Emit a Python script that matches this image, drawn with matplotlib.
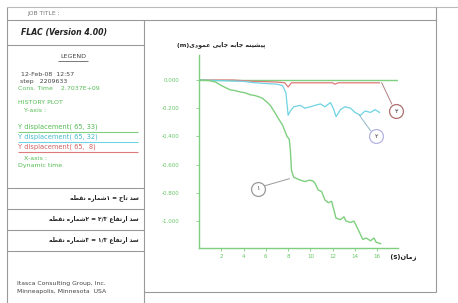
import itertools
import matplotlib
matplotlib.use("Agg")
import matplotlib.pyplot as plt

# ---- data ----
t_crest = [0, 1.0, 1.5, 1.9, 2.4, 2.8, 3.2, 3.7, 4.1, 4.6, 5.0, 5.4, 5.7, 6.0, 6.4,
           6.8, 7.1, 7.5, 7.7, 7.9, 8.1, 8.2, 8.3, 8.5, 8.8, 9.1, 9.5, 9.9, 10.2,
           10.4, 10.7, 11.0, 11.3, 11.6, 11.9, 12.1, 12.3, 12.7, 13.0, 13.2, 13.6,
           13.9, 14.1, 14.4, 14.7, 15.0, 15.4, 15.7, 15.9, 16.3]
y_crest = [0, -0.005, -0.015, -0.035, -0.055, -0.07, -0.075, -0.085, -0.09, -0.105,
           -0.11, -0.12, -0.13, -0.15, -0.18, -0.23, -0.27, -0.32, -0.36, -0.40,
           -0.42, -0.50, -0.64, -0.69, -0.70, -0.71, -0.72, -0.71, -0.715, -0.73,
           -0.78, -0.79, -0.85, -0.87, -0.86, -0.92, -0.98, -0.99, -0.97, -1.00,
           -1.01, -1.00, -1.03, -1.08, -1.13, -1.12, -1.14, -1.12, -1.15, -1.16]

t_mid = [0, 2, 4, 5, 6, 7, 7.5, 7.8, 8.0, 8.2, 8.5, 9.1, 9.5, 10.0, 10.4, 10.9,
         11.3, 11.8, 12.1, 12.3, 12.7, 13.1, 13.6, 14.0, 14.5, 14.9, 15.4, 15.8, 16.2]
y_mid = [0, -0.005, -0.01, -0.02, -0.025, -0.03, -0.04, -0.09, -0.25, -0.22, -0.19,
         -0.18, -0.20, -0.19, -0.18, -0.17, -0.19, -0.16, -0.21, -0.26, -0.21, -0.19,
         -0.20, -0.23, -0.25, -0.22, -0.23, -0.21, -0.23]

t_low = [0, 3, 4, 5, 6, 7, 7.7, 8.0, 8.3, 9, 10, 11, 12.0, 12.2, 12.5, 13, 14, 15, 16.2]
y_low = [0, 0, -0.005, -0.01, -0.012, -0.015, -0.02, -0.05, -0.02, -0.02, -0.02,
         -0.02, -0.02, -0.03, -0.02, -0.02, -0.02, -0.02, -0.02]

x_ticks = [2, 4, 6, 8, 10, 12, 14, 16]
y_ticks = [0.0, -0.2, -0.4, -0.6, -0.8, -1.0]

# circle labels: (label, centre, line start, line end)
marks = [("۱", (5.3, -0.77), (5.9, -0.75), (8.1, -0.70)),
         ("۲", (15.9, -0.40), (15.4, -0.36), (14.4, -0.25)),
         ("۳", (17.7, -0.22), (17.3, -0.17), (16.4, -0.02))]

legend_items = ["Y displacement( 65, 33)", "Y displacement( 65, 32)",
                "Y displacement( 65,  8)"]
rows = ["نقطه شماره۱ = تاج سد", "نقطه شماره۲ = ۲/۳ ارتفاع سد",
        "نقطه شماره۳ = ۱/۳ ارتفاع سد"]

GREEN = "#7fcf7f"
CYAN = "#6fd3e3"
RED = "#e07a7a"
TXT = "#444444"
FRAME = "#9a9a9a"
series_colors = [GREEN, CYAN, RED]
circle_edges = ["#999999", "#b4b4e4", "#b07070"]
line_colors = ["#999999", "#8fb8c8", "#b08080"]

# ---- simple Persian shaping (matplotlib does not join Arabic letters) ----
FORMS = {
    "ا": ("\uFE8D", "\uFE8E"), "د": ("\uFEA9", "\uFEAA"), "ر": ("\uFEAD", "\uFEAE"),
    "ز": ("\uFEAF", "\uFEB0"), "و": ("\uFEED", "\uFEEE"),
    "ب": ("\uFE8F", "\uFE90", "\uFE91", "\uFE92"),
    "پ": ("\uFB56", "\uFB57", "\uFB58", "\uFB59"),
    "ت": ("\uFE95", "\uFE96", "\uFE97", "\uFE98"),
    "ج": ("\uFE9D", "\uFE9E", "\uFE9F", "\uFEA0"),
    "س": ("\uFEB1", "\uFEB2", "\uFEB3", "\uFEB4"),
    "ش": ("\uFEB5", "\uFEB6", "\uFEB7", "\uFEB8"),
    "ط": ("\uFEC1", "\uFEC2", "\uFEC3", "\uFEC4"),
    "ع": ("\uFEC9", "\uFECA", "\uFECB", "\uFECC"),
    "ف": ("\uFED1", "\uFED2", "\uFED3", "\uFED4"),
    "ق": ("\uFED5", "\uFED6", "\uFED7", "\uFED8"),
    "م": ("\uFEE1", "\uFEE2", "\uFEE3", "\uFEE4"),
    "ن": ("\uFEE5", "\uFEE6", "\uFEE7", "\uFEE8"),
    "ه": ("\uFEE9", "\uFEEA", "\uFEEB", "\uFEEC"),
    "ی": ("\uFBFC", "\uFBFD", "\uFBFE", "\uFBFF"),
}


def shape_run(s):
    out = []
    for i, c in enumerate(s):
        f = FORMS[c]
        pj = i > 0 and len(FORMS[s[i - 1]]) == 4
        nj = len(f) == 4 and i + 1 < len(s)
        if pj and nj:
            g = f[3]
        elif pj:
            g = f[1]
        elif nj:
            g = f[2]
        else:
            g = f[0]
        out.append(g)
    return "".join(reversed(out))


def fa(text, rtl=True):
    pieces = []
    for is_ar, grp in itertools.groupby(text, key=lambda c: c in FORMS):
        s = "".join(grp)
        pieces.append(shape_run(s) if is_ar else s)
    if rtl:
        pieces = pieces[::-1]
    return "".join(pieces)


plt.rcParams["font.family"] = ["DejaVu Sans"]

fig = plt.figure(figsize=(4.58, 3.03), dpi=100)
bg = fig.add_axes([0, 0, 1, 1])
bg.set_xlim(0, 458)
bg.set_ylim(303, 0)
bg.axis("off")

# frame
def hline(y, x0, x1, c=FRAME, lw=0.8):
    bg.plot([x0, x1], [y, y], color=c, lw=lw, solid_capstyle="butt")

def vline(x, y0, y1, c=FRAME, lw=0.8):
    bg.plot([x, x], [y0, y1], color=c, lw=lw, solid_capstyle="butt")

hline(7, 7, 458, c="#bbbbbb")
hline(19.5, 7, 436)
vline(7, 7, 303)
vline(144, 19.5, 303)
vline(436, 7, 292)
hline(292, 144, 436)
for y in [45, 188, 209, 230, 251]:
    hline(y, 7, 144)

# left panel texts
bg.text(27, 13.5, "JOB TITLE :", fontsize=4.3, color="#777777", va="center")
bg.text(21, 32, "FLAC (Version 4.00)", fontsize=5.6, color="#222222",
        fontweight="bold", fontstyle="italic", va="center")
bg.text(73, 57, "LEGEND", fontsize=4.6, color=TXT, ha="center", va="center")
hline(61, 58, 88, c=TXT, lw=0.5)
bg.text(21, 75, "12-Feb-08  12:57", fontsize=4.5, color=TXT, va="center")
bg.text(18, 82, " step   2209633", fontsize=4.5, color=TXT, va="center")
bg.text(18, 89, "Cons. Time    2.7037E+09", fontsize=4.5, color="#55bb55", va="center")
bg.text(18, 103, "HISTORY PLOT", fontsize=4.5, color="#55bb55", va="center")
bg.text(24, 111, "Y-axis :", fontsize=4.5, color="#55bb55", va="center")
leg_y = [127, 137, 147]
leg_txt = ["#55bb55", "#44bbcc", "#d06060"]
for lbl, yy, col, tc in zip(legend_items, leg_y, series_colors, leg_txt):
    bg.text(18, yy, lbl, fontsize=4.8, color=tc, va="center")
    hline(yy + 4.5, 18, 138, c=col, lw=0.8)
bg.text(24, 158, "X-axis :", fontsize=4.5, color="#55bb55", va="center")
bg.text(18, 166, "Dynamic time", fontsize=4.5, color="#55bb55", va="center")

for txt, yy in zip(rows, [198, 219, 240]):
    bg.text(139, yy, fa(txt, rtl=False), fontsize=4.2, color="#222222",
            fontweight="bold", ha="right", va="center")

bg.text(17, 283, "Itasca Consulting Group, Inc.", fontsize=4.4, color=TXT, va="center")
bg.text(17, 291, "Minneapolis, Minnesota  USA", fontsize=4.4, color=TXT, va="center")

# plot title and axis label
bg.text(221, 45, fa("پیشینه جابه جایی عمودی(m)"), fontsize=4.5, color="#222222",
        fontweight="bold", ha="center", va="center")
bg.text(402, 257, fa("زمان (s)"), fontsize=4.8, color="#222222",
        fontweight="bold", ha="center", va="center")

# ---- history plot ----
ax = fig.add_axes([199 / 458, 1 - 248 / 303, 199 / 458, 193 / 303])
ax.set_facecolor("none")
ax.set_xlim(0, 17.86)
ax.set_ylim(-1.191, 0.177)
for s in ["top", "right"]:
    ax.spines[s].set_visible(False)
for s in ["left", "bottom"]:
    ax.spines[s].set_color(GREEN)
    ax.spines[s].set_linewidth(1.0)
ax.set_xticks(x_ticks)
ax.set_xticklabels([str(v) for v in x_ticks])
ax.set_yticks(y_ticks)
ax.set_yticklabels(["%.3f" % v for v in y_ticks])
ax.tick_params(colors=GREEN, labelcolor="#66c466", labelsize=4.0, length=2,
               width=0.6)
ax.tick_params(axis="y", pad=12)
ax.tick_params(axis="x", pad=2)

ax.axhline(0, color=GREEN, lw=1.0, zorder=1)
ax.plot(t_low, y_low, color=RED, lw=0.9, zorder=3)
ax.plot(t_mid, y_mid, color=CYAN, lw=0.9, zorder=3)
ax.plot(t_crest, y_crest, color=GREEN, lw=1.0, zorder=3)

for (lbl, c, p0, p1), ec, lc in zip(marks, circle_edges, line_colors):
    ax.plot([p0[0], p1[0]], [p0[1], p1[1]], color=lc, lw=0.7, zorder=4)
    ax.plot([c[0]], [c[1]], marker="o", ms=10, mfc="white", mec=ec, mew=0.9,
            zorder=5, clip_on=False)
    ax.text(c[0], c[1], lbl, fontsize=4.5, color="#333333", ha="center",
            va="center", zorder=6)

fig.savefig("out.png", dpi=100)
